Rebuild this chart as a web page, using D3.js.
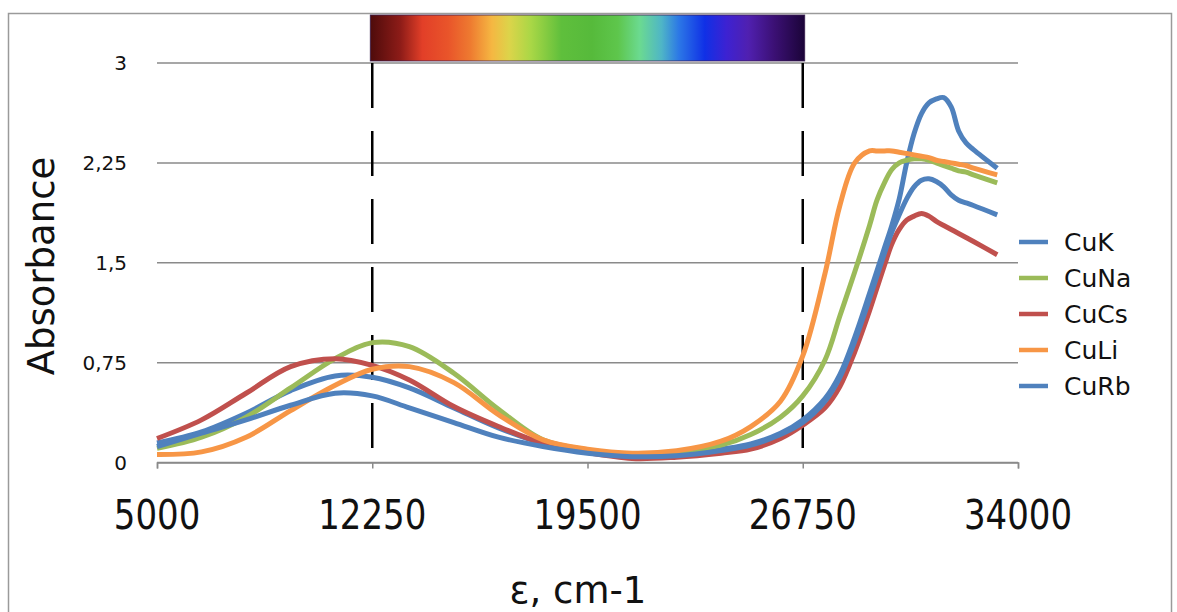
<!DOCTYPE html>
<html><head><meta charset="utf-8">
<script src="https://cdn.jsdelivr.net/npm/d3@7"></script>
<style>html,body{margin:0;padding:0;background:#fff;}svg{display:block;font-family:"DejaVu Sans",sans-serif;}</style>
</head><body><svg id="c" width="1177" height="612"></svg>
<script>
const wavenumbers = [5000,6500,8000,9500,11000,12250,13500,15000,16500,18000,19500,21000,22500,24000,25000,26000,26750,27500,28000,28500,29000,29250,29500,29750,30000,30250,30500,30750,31000,31250,31500,31750,32000,32250,32500,33300];
const CuK  = [0.146,0.23,0.37,0.54,0.65,0.64,0.56,0.41,0.26,0.144,0.08,0.044,0.056,0.10,0.14,0.22,0.32,0.48,0.66,0.94,1.27,1.44,1.61,1.78,1.98,2.25,2.47,2.62,2.70,2.73,2.74,2.67,2.49,2.40,2.35,2.21];
const CuNa = [0.106,0.19,0.34,0.56,0.78,0.90,0.87,0.67,0.40,0.17,0.095,0.064,0.074,0.13,0.21,0.34,0.50,0.77,1.1,1.43,1.78,1.97,2.1,2.2,2.25,2.27,2.28,2.28,2.27,2.25,2.23,2.21,2.19,2.18,2.16,2.10];
const CuCs = [0.18,0.32,0.52,0.72,0.78,0.73,0.62,0.42,0.27,0.144,0.074,0.03,0.04,0.07,0.10,0.18,0.28,0.41,0.57,0.83,1.14,1.31,1.48,1.64,1.75,1.82,1.85,1.87,1.85,1.81,1.78,1.75,1.72,1.69,1.66,1.56];
const CuLi = [0.06,0.08,0.19,0.39,0.58,0.70,0.72,0.60,0.36,0.17,0.10,0.07,0.088,0.16,0.27,0.46,0.80,1.42,1.93,2.25,2.34,2.34,2.34,2.34,2.33,2.32,2.31,2.30,2.29,2.27,2.26,2.25,2.24,2.23,2.21,2.16];
const CuRb = [0.12,0.22,0.32,0.43,0.52,0.50,0.41,0.30,0.19,0.12,0.07,0.044,0.05,0.09,0.13,0.21,0.30,0.46,0.64,0.91,1.23,1.40,1.57,1.73,1.86,1.98,2.07,2.12,2.13,2.11,2.07,2.01,1.97,1.95,1.93,1.86];
const seriesNames = ["CuK","CuNa","CuCs","CuLi","CuRb"];
const seriesColors = ["#4f81bd","#9bbb59","#c0504d","#f79646","#4f81bd"];
const xTicks = [5000,12250,19500,26750,34000];
const yTicks = [0,0.75,1.5,2.25,3];
const yTickLabels = ["0","0,75","1,5","2,25","3"];
const markerLines = [12250,26750];
const spectrumStops = [[0,"#4e0b0b"],[0.07,"#8e1c18"],[0.12,"#e23f28"],[0.18,"#e9552a"],[0.23,"#ee7a30"],[0.28,"#f5b742"],[0.32,"#dcd44a"],[0.37,"#a9d746"],[0.44,"#5fbf3c"],[0.51,"#56ba3b"],[0.57,"#5ec64c"],[0.62,"#6bda90"],[0.67,"#4fb6c6"],[0.71,"#2c78e6"],[0.77,"#1030e6"],[0.82,"#3d22d2"],[0.87,"#5020b0"],[0.93,"#3b1074"],[1,"#1b0438"]];

const data = [CuK,CuNa,CuCs,CuLi,CuRb];
const svg = d3.select("#c");
const x = d3.scaleLinear().domain([5000,34000]).range([157,1018]);
const y = d3.scaleLinear().domain([0,3]).range([462.5,63]);

// outer border
svg.append("rect").attr("x",8.5).attr("y",13.5).attr("width",1163).attr("height",620)
  .attr("fill","none").attr("stroke","#9a9a9a").attr("stroke-width",1.5);

// gridlines
svg.append("g").selectAll("line").data(yTicks).join("line")
  .attr("x1",x(5000)).attr("x2",x(34000)).attr("y1",d=>y(d)).attr("y2",d=>y(d))
  .attr("stroke","#8a8a8a").attr("stroke-width",1.5);

// x axis
const xAxis = d3.axisBottom(x).tickValues(xTicks).tickSize(6).tickFormat("");
const gx = svg.append("g").attr("transform",`translate(0,${y(0)})`).call(xAxis);
gx.select(".domain").attr("stroke","#8a8a8a").attr("stroke-width",1.5);
gx.selectAll(".tick line").attr("stroke","#8a8a8a").attr("stroke-width",1.5);
svg.append("g").selectAll("text").data(xTicks).join("text")
  .attr("transform",d=>`translate(${x(d)},529) scale(0.85,1)`)
  .attr("text-anchor","middle").attr("font-size",40).attr("fill","#111").text(d=>d);

// y labels
svg.append("g").selectAll("text").data(yTicks).join("text")
  .attr("x",127).attr("y",d=>y(d)).attr("dy","0.36em").attr("text-anchor","end")
  .attr("font-size",20).attr("fill","#111").text((d,i)=>yTickLabels[i]);

// axis titles
svg.append("text").attr("transform","translate(54,266) rotate(-90)").attr("text-anchor","middle")
  .attr("font-size",37).attr("fill","#111").text("Absorbance");
svg.append("text").attr("x",578).attr("y",603).attr("text-anchor","middle")
  .attr("font-size",37).attr("fill","#111").text("ε, cm-1");

// spectrum bar
const defs = svg.append("defs");
const grad = defs.append("linearGradient").attr("id","spec").attr("x1","0").attr("x2","1").attr("y1","0").attr("y2","0");
grad.selectAll("stop").data(spectrumStops).join("stop").attr("offset",d=>d[0]).attr("stop-color",d=>d[1]);
svg.append("rect").attr("x",x(12250)-2).attr("y",15).attr("width",x(26750)-x(12250)+4).attr("height",46)
  .attr("fill","url(#spec)").attr("stroke","#3a2050").attr("stroke-width",0.8);

// dashed marker lines
svg.append("g").selectAll("line").data(markerLines).join("line")
  .attr("x1",d=>x(d)).attr("x2",d=>x(d)).attr("y1",63).attr("y2",451)
  .attr("stroke","#000").attr("stroke-width",2.5).attr("stroke-dasharray","45,23");

// series
const line = d3.line().x(d=>x(d[0])).y(d=>y(d[1])).curve(d3.curveCatmullRom.alpha(0.5));
svg.append("g").selectAll("path").data(data).join("path")
  .attr("d",vals=>line(wavenumbers.map((w,i)=>[w,vals[i]])))
  .attr("fill","none").attr("stroke",(d,i)=>seriesColors[i]).attr("stroke-width",5).attr("stroke-linejoin","round");

// legend
const lg = svg.append("g").selectAll("g").data(seriesNames).join("g")
  .attr("transform",(d,i)=>`translate(0,${242+i*36})`);
lg.append("line").attr("x1",1019).attr("x2",1048).attr("stroke",(d,i)=>seriesColors[i]).attr("stroke-width",4.5);
lg.append("text").attr("x",1064).attr("dy","0.36em").attr("font-size",25).attr("fill","#111").text(d=>d);
</script></body></html>
